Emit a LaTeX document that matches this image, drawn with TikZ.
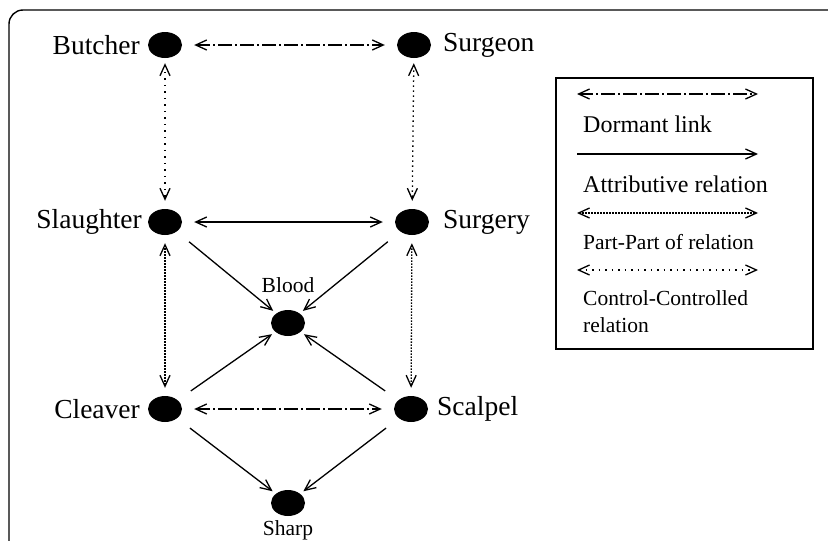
\documentclass[tikz,border=0pt]{standalone}
\usepackage{fontspec}
\setmainfont{Liberation Serif}
\usetikzlibrary{arrows.meta,shapes.geometric}
\tikzset{
  >={Straight Barb[length=11pt,width=10pt,line width=1.3pt]},
  dot/.style={ellipse, fill=black, minimum width=34pt, minimum height=26pt, inner sep=0pt},
  big/.style={font=\fontsize{27.5}{31}\selectfont, inner sep=0pt},
  mid/.style={font=\fontsize{24}{28}\selectfont, inner sep=0pt},
  small/.style={font=\fontsize{21.5}{25}\selectfont, inner sep=0pt},
  conn/.style={line width=1.3pt},
  dormant/.style={conn, <->, dash pattern=on 14pt off 3pt on 2pt off 3pt},
  attr/.style={conn, ->},
  partof/.style={conn, <->, dash pattern=on 1.5pt off 1.5pt},
  control/.style={conn, <->, dash pattern=on 1.5pt off 5pt},
}
\begin{document}
\begin{tikzpicture}[x=1pt,y=-1pt]
\useasboundingbox (0,0) rectangle (828,541);
\clip (0,0) rectangle (828,541);
\draw[line width=1.4pt, rounded corners=14pt] (9,10) rectangle (842,580);

\node[dot] (butcher) at (165,45) {};
\node[dot] (surgeon) at (414,45) {};
\node[dot] (slaughter) at (165,222) {};
\node[dot] (surgery) at (412,222) {};
\node[dot] (blood) at (288,323) {};
\node[dot] (cleaver) at (165,409) {};
\node[dot] (scalpel) at (411,409) {};
\node[dot] (sharp) at (288,503) {};

\node[big, anchor=east] (tbutcher) at (140,45) {Butcher};
\node[big, anchor=west] (tsurgeon) at (443,45) {Surgeon};
\node[big, anchor=east] (tslaughter) at (142,222) {Slaughter};
\node[big, anchor=west] (tsurgery) at (443,222) {Surgery};
\node[big, anchor=east] (tcleaver) at (140,409) {Cleaver};
\node[big, anchor=west] (tscalpel) at (437,409) {Scalpel};
\node[small, anchor=south] (tblood) at (288,293) {Blood};
\node[small, anchor=north] (tsharp) at (288,520) {Sharp};

\draw[dormant, shorten <=12pt, shorten >=12pt] (butcher) -- (surgeon);
\draw[conn, <->, shorten <=12pt, shorten >=12pt] (slaughter) -- (surgery);
\draw[dormant, shorten <=12pt, shorten >=12pt] (cleaver) -- (scalpel);

\draw[control, shorten <=5pt, shorten >=8pt] (butcher) -- (slaughter);
\draw[control, dash pattern=on 1.5pt off 3.5pt, shorten <=5pt, shorten >=8pt] (surgeon) -- (surgery);
\draw[partof, shorten <=8pt, shorten >=8pt] (slaughter) -- (cleaver);
\draw[partof, shorten <=8pt, shorten >=8pt] (surgery) -- (scalpel);

\draw[attr, shorten <=16pt, shorten >=4pt] (slaughter) -- (blood);
\draw[attr, shorten <=16pt, shorten >=4pt] (surgery) -- (blood);
\draw[attr, shorten <=16pt, shorten >=4pt] (cleaver) -- (blood);
\draw[attr, shorten <=16pt, shorten >=4pt] (scalpel) -- (blood);
\draw[attr, shorten <=16pt, shorten >=4pt] (cleaver) -- (sharp);
\draw[attr, shorten <=16pt, shorten >=4pt] (scalpel) -- (sharp);

% legend
\node[draw, line width=1.6pt, minimum width=257pt, minimum height=271pt, anchor=north west, inner sep=0pt] (legend) at (555,77) {};
\coordinate (l1a) at (577,94);  \coordinate (l1b) at (758,94);
\coordinate (l2a) at (577,154); \coordinate (l2b) at (758,154);
\coordinate (l3a) at (577,213); \coordinate (l3b) at (758,213);
\coordinate (l4a) at (577,270); \coordinate (l4b) at (758,270);
\draw[dormant] (l1a) -- (l1b);
\draw[attr] (l2a) -- (l2b);
\draw[partof] (l3a) -- (l3b);
\draw[control] (l4a) -- (l4b);
\node[mid, anchor=west] (ldorm) at (583,124) {Dormant link};
\node[mid, anchor=west] (lattr) at (583,184) {Attributive relation};
\node[small, anchor=west] (lpart) at (583,242) {Part-Part of relation};
\node[small, anchor=west] (lctrl1) at (583,298) {Control-Controlled};
\node[small, anchor=west] (lctrl2) at (583,325) {relation};
\end{tikzpicture}
\end{document}
